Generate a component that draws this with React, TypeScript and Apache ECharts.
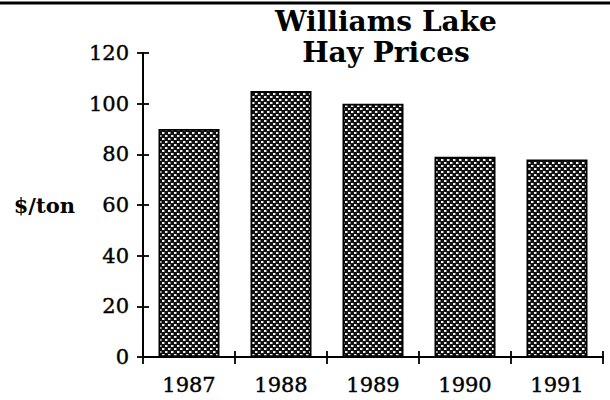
import React, { useEffect, useRef } from "react";
import * as echarts from "echarts";

const years = ["1987", "1988", "1989", "1990", "1991"];
const prices = [90, 105, 100, 79, 78];
const yMin = 0;
const yMax = 120;
const yStep = 20;
const titleLines = ["Williams Lake", "Hay Prices"];
const yName = "$/ton";

function makePattern(): HTMLCanvasElement {
  const c = document.createElement("canvas");
  c.width = 6;
  c.height = 6;
  const ctx = c.getContext("2d")!;
  ctx.fillStyle = "#111";
  ctx.fillRect(0, 0, 6, 6);
  ctx.fillStyle = "#f0f0f0";
  ctx.fillRect(0, 0, 2, 2);
  ctx.fillRect(3, 3, 2, 2);
  ctx.fillStyle = "#777";
  ctx.fillRect(2, 0, 1, 2);
  ctx.fillRect(5, 3, 1, 2);
  return c;
}

export default function App() {
  const ref = useRef<HTMLDivElement>(null);
  useEffect(() => {
    if (!ref.current) return;
    const chart = echarts.init(ref.current, null, { renderer: "svg" });
    const font = "DejaVu Serif";
    const pattern = makePattern();
    const axisCommon = {
      axisLine: { show: true, lineStyle: { color: "#000", width: 1.8 } },
      splitLine: { show: false },
    };
    const labelStyle = {
      color: "#000",
      fontFamily: font,
      fontSize: 21,
      textBorderColor: "#000",
      textBorderWidth: 0.4,
    };
    chart.setOption({
      animation: false,
      backgroundColor: "#fff",
      title: {
        text: titleLines.join("\n"),
        left: 381,
        top: 1,
        textAlign: "center",
        textStyle: {
          fontFamily: font,
          fontWeight: "bold",
          fontSize: 28,
          lineHeight: 31,
          color: "#000",
        },
      },
      grid: { left: 143, right: 7, top: 53, bottom: 43, containLabel: false },
      xAxis: [
        {
          type: "category",
          data: years,
          ...axisCommon,
          axisTick: { show: true, inside: false, length: 7, lineStyle: { color: "#000", width: 1.8 } },
          axisLabel: { ...labelStyle, margin: 17 },
        },
        {
          type: "category",
          data: years,
          position: "bottom",
          ...axisCommon,
          axisTick: { show: true, inside: true, length: 6, lineStyle: { color: "#000", width: 1.8 } },
          axisLabel: { show: false },
        },
      ],
      yAxis: [
        {
          type: "value",
          min: yMin,
          max: yMax,
          interval: yStep,
          name: yName,
          nameLocation: "middle",
          nameRotate: 0,
          nameGap: 68,
          nameTextStyle: { fontFamily: font, fontWeight: "bold", fontSize: 21, color: "#000", align: "right" },
          ...axisCommon,
          axisTick: { show: true, inside: false, length: 6, lineStyle: { color: "#000", width: 1.8 } },
          axisLabel: { ...labelStyle, margin: 14 },
        },
        {
          type: "value",
          min: yMin,
          max: yMax,
          interval: yStep,
          position: "left",
          ...axisCommon,
          axisTick: { show: true, inside: true, length: 6, lineStyle: { color: "#000", width: 1.8 } },
          axisLabel: { show: false },
        },
      ],
      series: [
        {
          type: "bar",
          data: prices,
          barWidth: 61,
          xAxisIndex: 0,
          yAxisIndex: 0,
          itemStyle: {
            color: { image: pattern, repeat: "repeat" },
            borderColor: "#000",
            borderWidth: 1.8,
          },
        },
      ],
      graphic: [
        {
          type: "line",
          shape: { x1: 0, y1: 3, x2: 610, y2: 3 },
          style: { stroke: "#000", lineWidth: 3 },
        },
      ],
    });
    return () => chart.dispose();
  }, []);
  return (
    <div
      ref={ref}
      style={{ position: "fixed", left: 0, top: 0, width: 610, height: 400, background: "#fff" }}
    />
  );
}
